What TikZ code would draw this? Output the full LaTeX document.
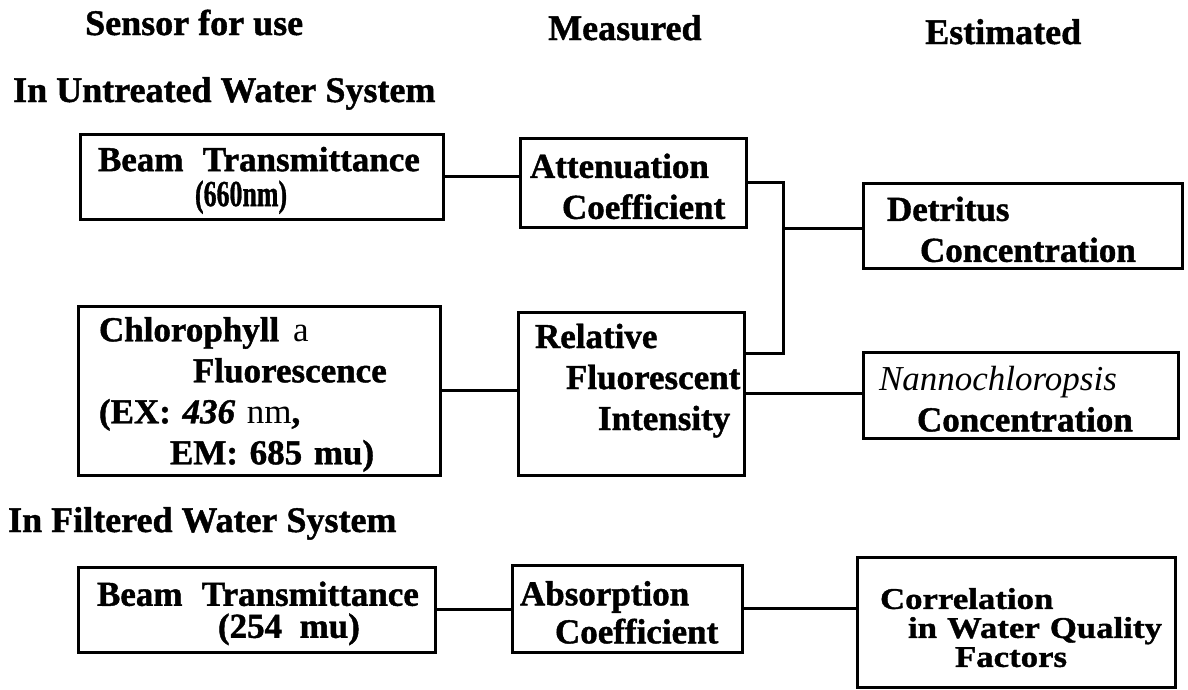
\documentclass[tikz,border=0pt]{standalone}
\usepackage{fontspec}
\setmainfont{Liberation Serif}[BoldFeatures={FakeBold=1.2},BoldItalicFeatures={FakeBold=1.2}]
\newfontfamily\widefont{Liberation Serif}[FakeStretch=1.16,BoldFeatures={FakeBold=1.2}]
\usetikzlibrary{calc}

\newcommand{\boxstrut}{\rule{0pt}{32pt}}

\tikzset{
	box/.style={draw,line width=3pt,rectangle,inner sep=0pt,align=left,
		font=\fontsize{35}{41}\selectfont\bfseries},
	head/.style={anchor=base west,inner sep=0pt,font=\fontsize{36}{41}\selectfont\bfseries},
	link/.style={line width=3pt}
}

\begin{document}
\begin{tikzpicture}[x=1pt,y=-1pt]
	\useasboundingbox (0,0) rectangle (1188,689);

	\node[head] (hsensor) at (85,35) {Sensor for use};
	\node[head] (hmeasured) at (548,40) {Measured};
	\node[head] (hestimated) at (925,44) {Estimated};
	\node[head] (huntreated) at (13,102) {In Untreated Water System};
	\node[head] (hfiltered) at (8,532) {In Filtered Water System};

	\node[box,text width=363pt,minimum height=85pt] (b660) at (261.5,176.5)
		{\boxstrut\hspace*{18pt}Beam\hspace{0.55em}Transmittance\\[-6pt]
		 \hspace*{115pt}\scalebox{0.74}[1.05]{(660nm)}};
	\node[box,text width=226pt,minimum height=89pt] (att) at (633,182.5)
		{\boxstrut\hspace*{10pt}Attenuation\\
		 \hspace*{42pt}Coefficient};
	\node[box,text width=319pt,minimum height=85pt] (det) at (1022.5,225.5)
		{\boxstrut\hspace*{24pt}Detritus\\
		 \hspace*{57pt}Concentration};
	\node[box,text width=362pt,minimum height=169pt] (chl) at (259,390.5)
		{\boxstrut\hspace*{21pt}Chlorophyll\hspace{14pt}{\mdseries a}\\
		 \hspace*{115pt}Fluorescence\\
		 \hspace*{21pt}(EX: \textit{436} {\mdseries nm},\\
		 \hspace*{92pt}EM: 685 mu)};
	\node[box,text width=226pt,minimum height=163pt] (rel) at (631,393.5)
		{\boxstrut\hspace*{17pt}Relative\\
		 \hspace*{48pt}Fluorescent\\
		 \hspace*{80pt}Intensity\\
		 \mbox{}};
	\node[box,text width=315pt,minimum height=86pt] (nan) at (1020.5,395)
		{\boxstrut\hspace*{16pt}{\mdseries\itshape Nannochloropsis}\\
		 \hspace*{54pt}Concentration};

	\node[box,text width=357pt,minimum height=85pt] (b254) at (256.5,609.5)
		{\boxstrut\hspace*{19pt}Beam\hspace{0.55em}Transmittance\\[-9pt]
		 \hspace*{140pt}(254\hspace{0.5em}mu)};
	\node[box,text width=230pt,minimum height=87pt] (abs) at (627,608.5)
		{\boxstrut\hspace*{8pt}Absorption\\[-3pt]
		 \hspace*{43pt}Coefficient};
	\node[box,text width=318pt,minimum height=130pt,
		font=\fontsize{30}{29}\widefont\bfseries] (cor) at (1016,622)
		{\boxstrut\hspace*{23pt}Correlation\\
		 \hspace*{51pt}in Water Quality\\
		 \hspace*{98pt}Factors};

	\coordinate (jx) at (783,228);
	\coordinate (rt) at ($(rel.north east)+(0,43)$);

	\draw[link] (b660.east) -- (b660.east -| att.west);
	\draw[link] (chl.east) -- (chl.east -| rel.west);
	\draw[link] (att.east) -| (jx) |- (rt);
	\draw[link] (jx) -- (jx -| det.west);
	\draw[link] (rel.east) -- (rel.east -| nan.west);
	\draw[link] (b254.east) -- (b254.east -| abs.west);
	\draw[link] (abs.east) -- (abs.east -| cor.west);
\end{tikzpicture}
\end{document}
